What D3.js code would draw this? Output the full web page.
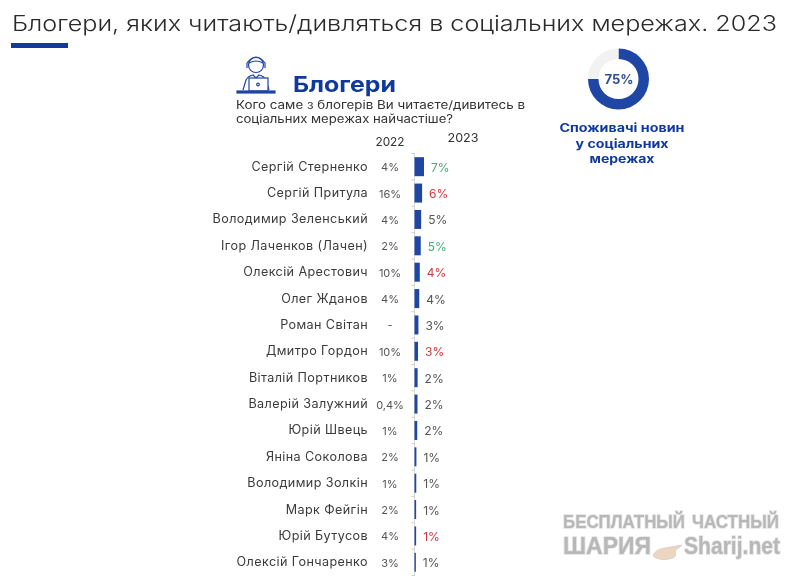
<!DOCTYPE html>
<html><head><meta charset="utf-8">
<script src="https://cdn.jsdelivr.net/npm/d3@7/dist/d3.min.js"></script>
<style>html,body{margin:0;padding:0;background:#fff}svg{display:block;filter:blur(0.35px)}text{font-family:Inter,"Open Sans",sans-serif}</style>
</head><body><svg id="c" width="800" height="578"></svg>
<script>
const names=["Сергій Стерненко","Сергій Притула","Володимир Зеленський","Ігор Лаченков (Лачен)","Олексій Арестович","Олег Жданов","Роман Світан","Дмитро Гордон","Віталій Портников","Валерій Залужний","Юрій Швець","Яніна Соколова","Володимир Золкін","Марк Фейгін","Юрій Бутусов","Олексій Гончаренко"];
const labels2022=["4%","16%","4%","2%","10%","4%","-","10%","1%","0,4%","1%","2%","1%","2%","4%","3%"];
const labels2023=["7%","6%","5%","5%","4%","4%","3%","3%","2%","2%","2%","1%","1%","1%","1%","1%"];
const values2023=[7,5.6,4.9,4.6,3.9,3.5,2.9,2.6,2.3,2.2,2.0,1.4,1.3,1.2,1.2,1.0];
const labelColors=["#3fae78","#d0393f","#555","#3fae78","#d0393f","#555","#555","#d0393f","#555","#555","#555","#555","#555","#555","#d0393f","#555"];
const donutShare=[75,25];
const blue="#1f45a5",dark="#0f3a9c";
const svg=d3.select("#c");
const T=(x,y,s,size,o={})=>svg.append("text").attr("x",x).attr("y",y).text(s).attr("font-size",size)
 .attr("fill",o.fill||"#333").attr("font-weight",o.w||400).attr("text-anchor",o.a||"start")
 .attr("textLength",o.len||null).attr("lengthAdjust","spacingAndGlyphs");
T(12,31,"Блогери, яких читають/дивляться в соціальних мережах. 2023",21.5,{fill:"#2a2a2a",w:300,len:765});
svg.append("rect").attr("x",11).attr("y",43).attr("width",57).attr("height",5).attr("fill","#123a9a");
// icon
const ic=svg.append("g").attr("fill","none").attr("stroke","#1f45a5").attr("stroke-width",1.2);
ic.append("circle").attr("cx",256).attr("cy",65).attr("r",7.5);
ic.append("path").attr("d","M247 68 v-5 q9 -12 18 0 v5 M249 63 q7 -4 14 0");
ic.append("path").attr("d","M243 90 l3 -10 q2 -4 7 -5 l3 3 l3 -3 q5 1 7 5 l3 10");
ic.append("rect").attr("x",249).attr("y",78).attr("width",19).attr("height",13).attr("fill","#fff");
ic.append("circle").attr("cx",258).attr("cy",84.5).attr("r",1.3);
ic.append("rect").attr("x",237).attr("y",91).attr("width",38).attr("height",2).attr("fill","#1f45a5");
T(293,92,"Блогери",21.5,{fill:dark,w:700,len:103});
T(236,109,"Кого саме з блогерів Ви читаєте/дивитесь  в",11.3,{fill:"#333",len:289});
T(236,123,"соціальних мережах найчастіше?",11.3,{fill:"#333",len:217});
T(390,146,"2022",12,{a:"middle",fill:"#333",len:29});
T(463,142,"2023",12,{a:"middle",fill:"#333",len:31});
// rows
const y=d3.scaleBand().domain(names).range([153.5,575.5]);
const x=d3.scaleLinear().domain([0,7]).range([414.5,424]);
const ticks=names.map(n=>y(n)).concat([y.range()[1]]);
svg.append("line").attr("x1",414.5).attr("x2",414.5).attr("y1",153.5).attr("y2",575.5).attr("stroke","#d8d8d0");
svg.selectAll(".tk").data(ticks).join("line").attr("x1",411.5).attr("x2",414.5).attr("y1",d=>d).attr("y2",d=>d).attr("stroke","#ccc");
svg.selectAll(".bar").data(names).join("rect").attr("x",x(0)).attr("y",d=>y(d)+y.bandwidth()/2-9.5)
 .attr("width",(d,i)=>x(values2023[i])-x(0)).attr("height",19).attr("fill",blue);
names.forEach((n,i)=>{
 const c=y(n)+y.bandwidth()/2;
 T(368,c+4,n,12.6,{a:"end",fill:"#3a3a3a"}).attr("letter-spacing",0.4);
 T(390,c+4.5,labels2022[i],11,{a:"middle",fill:"#555"});
 T(x(values2023[i])+7,c+5,labels2023[i],12,{fill:labelColors[i]});
});
// donut
const g=svg.append("g").attr("transform","translate(618.5,79)");
const arc=d3.arc().innerRadius(20).outerRadius(30.5);
const pie=d3.pie().sort(null);
g.selectAll("path").data(pie(donutShare)).join("path").attr("d",arc).attr("fill",(d,i)=>i?"#f2f2f2":blue);
T(619,83.5,"75%",13,{a:"middle",fill:"#2f4f8f",w:700});
T(622,132,"Споживачі новин",11.5,{a:"middle",fill:dark,w:700,len:125});
T(622,148,"у соціальних",11.5,{a:"middle",fill:dark,w:700,len:93});
T(622,163,"мережах",11.5,{a:"middle",fill:dark,w:700,len:65});
// watermark
const W=(x,y,s,len,fs)=>svg.append("text").attr("x",x).attr("y",y).text(s).attr("font-size",fs).attr("font-weight",700).style("font-family","'Liberation Sans',sans-serif")
 .attr("fill","#b8b8b8").attr("stroke","#e4e4e4").attr("stroke-width",1.6).attr("paint-order","stroke").attr("textLength",len).attr("lengthAdjust","spacingAndGlyphs");
W(563,527.5,"БЕСПЛАТНЫЙ",122,19);W(692,527.5,"ЧАСТНЫЙ",87,19);W(563,554,"ШАРИЯ",88,23);W(684,554,"Sharij.net",96,23);
svg.append("path").attr("d","M653 556 q2 -7 12 -8 l17 -3 l-7 6 q2 5 -2 7 q-12 4 -20 -2z").attr("fill","#edd6bf").attr("stroke","#c9c9c9").attr("stroke-width",.7);
</script></body></html>
